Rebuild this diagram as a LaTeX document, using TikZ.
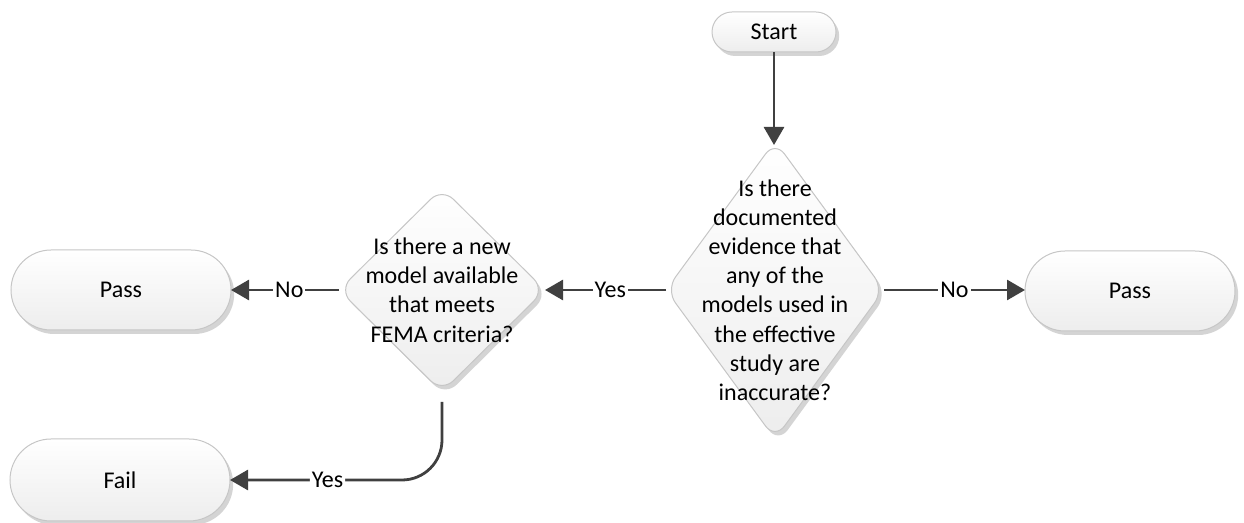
\documentclass[tikz,border=0pt]{standalone}
\usepackage{fontspec}
\setmainfont{Carlito}
\usetikzlibrary{shapes.geometric,shapes.misc,arrows.meta,shadows}
\definecolor{edge}{HTML}{404040}
\definecolor{rim}{HTML}{C6C6C6}
\definecolor{shadowgray}{HTML}{D4D4D4}
\tikzset{
  boxlook/.style={draw=rim, line width=0.5pt, top color=white, bottom color=black!7,
    drop shadow={shadow xshift=1.6pt, shadow yshift=-2pt, fill=shadowgray, opacity=1},
    inner sep=0pt, outer sep=0pt},
  term/.style={boxlook, rounded rectangle},
  decision/.style={boxlook, diamond, rounded corners=8pt},
  qtext/.style={align=center, inner sep=0pt},
  flow/.style={draw=edge, line width=1.4pt, -{Triangle[length=9pt,width=10pt]}},
  lab/.style={fill=white, inner sep=1pt, text=black}
}
\begin{document}
\begin{tikzpicture}[x=0.5pt, y=-0.5pt, font=\fontsize{12}{14.6}\selectfont]
\useasboundingbox (0,0) rectangle (1244,523);

% terminals
\node[term, minimum width=62pt, minimum height=20pt] (start) at (774,32) {Start};
\node[term, minimum width=110pt, minimum height=40pt] (passL) at (121,290) {Pass};
\node[term, minimum width=105pt, minimum height=40pt] (passR) at (1130,291) {Pass};
\node[term, minimum width=110pt, minimum height=41pt] (fail) at (120,480) {Fail};

% decisions
\node[decision, minimum width=109pt, minimum height=149pt] (d1) at (775,290) {};
\node[qtext] (d1t) at (d1.center) {Is there\\documented\\evidence that\\any of the\\models used in\\the effective\\study are\\inaccurate?};
\node[decision, minimum width=103pt, minimum height=102pt] (d2) at (442,290) {};
\node[qtext] (d2t) at (d2.center) {Is there a new\\model available\\that meets\\FEMA criteria?};

% connectors
\draw[flow] (start.south) -- ([yshift=-2pt]start.south |- d1.north);
\draw[flow] (d1.west) -- node[lab, pos=0.46] {Yes} (d2.east);
\draw[flow] (d2.west) -- node[lab, pos=0.46] {No} (passL.east);
\draw[flow] (d1.east) -- node[lab] {No} (d1.east -| passR.west);
\draw[flow, rounded corners=20pt] ([yshift=-5pt]d2.south) |- node[lab, pos=0.77] {Yes} (fail.east);
\end{tikzpicture}
\end{document}
